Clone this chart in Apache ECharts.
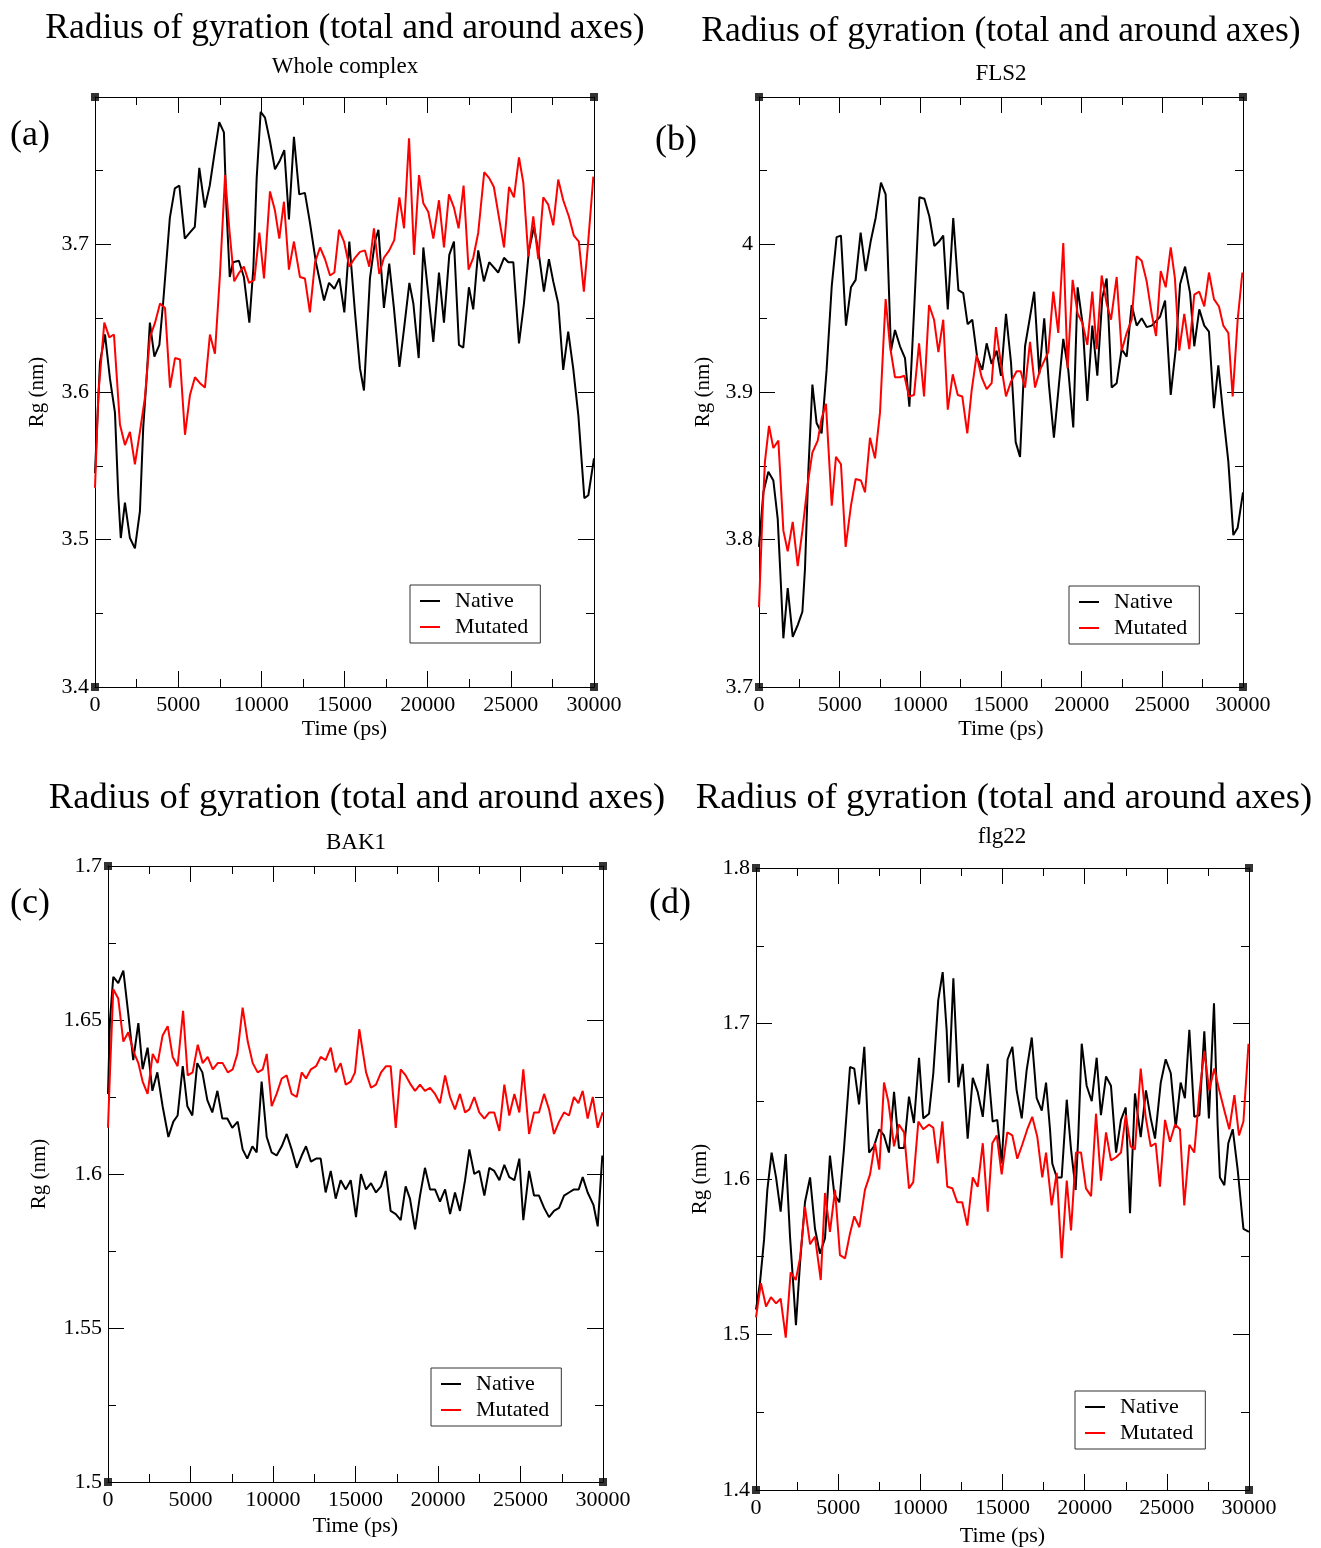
<!DOCTYPE html>
<html>
<head>
<meta charset="utf-8">
<script src="https://cdn.jsdelivr.net/npm/echarts@6/dist/echarts.min.js"></script>
<style>
html,body{margin:0;padding:0;background:#fff;}
#chart{width:1321px;height:1548px;}
</style>
</head>
<body>
<div id="chart"></div>
<script>
// ---------- DATA ----------
const panelTitles = ["Radius of gyration (total and around axes)","Radius of gyration (total and around axes)","Radius of gyration (total and around axes)","Radius of gyration (total and around axes)"];
const panelSubtitles = ["Whole complex","FLS2","BAK1","flg22"];
const panelLetters = ["(a)","(b)","(c)","(d)"];
const seriesNames = ["Native","Mutated"];
const xName = "Time (ps)";
const yName = "Rg (nm)";
const timeTicks = [0,5000,10000,15000,20000,25000,30000];
const yMinA = [3.4, 3.7, 1.5, 1.4];
const yMaxA = [3.8, 4.1, 1.7, 1.8];
const yStepA = [0.1, 0.1, 0.05, 0.1];

// (a) Whole complex
const wholeNativeT = [0,100,300,600,900,1200,1400,1550,1800,2100,2400,2700,2900,3100,3300,3570,3870,4100,4500,4800,5070,5400,5700,6000,6270,6600,6900,7200,7470,7750,7900,8100,8300,8650,8950,9280,9520,9720,9960,10220,10520,10820,11120,11380,11660,11960,12280,12620,12920,13280,13770,14070,14390,14690,14990,15290,15630,15930,16170,16530,16830,17040,17370,17690,17970,18300,18580,18900,19140,19460,19740,20040,20340,20680,20980,21300,21580,21880,22140,22480,22740,23040,23380,23700,24240,24590,24850,25150,25490,25790,26090,26390,26690,26990,27290,27550,27850,28150,28450,28750,29060,29420,29660,30000];
const wholeNativeRg = [3.545,3.571,3.620,3.639,3.609,3.586,3.530,3.501,3.525,3.501,3.494,3.519,3.576,3.609,3.647,3.624,3.632,3.661,3.718,3.738,3.740,3.704,3.708,3.712,3.752,3.725,3.740,3.763,3.783,3.776,3.725,3.678,3.688,3.689,3.678,3.647,3.684,3.745,3.790,3.786,3.770,3.751,3.757,3.764,3.717,3.773,3.734,3.735,3.715,3.688,3.662,3.674,3.670,3.677,3.654,3.702,3.654,3.616,3.601,3.677,3.702,3.710,3.657,3.687,3.657,3.617,3.643,3.674,3.660,3.623,3.698,3.666,3.634,3.681,3.647,3.693,3.702,3.632,3.630,3.671,3.656,3.696,3.675,3.688,3.681,3.691,3.688,3.688,3.633,3.660,3.696,3.712,3.693,3.668,3.690,3.675,3.660,3.615,3.641,3.616,3.584,3.528,3.530,3.555];
const wholeMutT = [0,200,560,860,1140,1500,1800,2100,2400,2700,3000,3300,3610,3910,4210,4510,4810,5110,5410,5710,6010,6310,6610,6910,7210,7510,7820,8070,8370,8670,8950,9260,9580,9880,10160,10520,10820,11080,11360,11660,11960,12320,12620,12920,13230,13530,13830,14130,14390,14670,14970,15290,15630,15930,16230,16490,16770,17090,17370,17690,17990,18300,18580,18880,19180,19480,19740,20040,20340,20680,20980,21280,21580,21860,22160,22460,22740,23040,23400,23700,23980,24290,24590,24890,25190,25490,25750,26050,26350,26650,26950,27250,27550,27850,28150,28490,28790,29090,29390,29660,29960];
const wholeMutRg = [3.535,3.598,3.647,3.637,3.639,3.578,3.564,3.573,3.551,3.573,3.596,3.637,3.647,3.660,3.657,3.603,3.623,3.622,3.571,3.598,3.610,3.606,3.603,3.639,3.626,3.679,3.747,3.711,3.675,3.681,3.685,3.674,3.676,3.708,3.677,3.736,3.723,3.704,3.729,3.683,3.702,3.678,3.677,3.654,3.688,3.698,3.690,3.679,3.681,3.710,3.702,3.685,3.691,3.695,3.696,3.685,3.711,3.680,3.691,3.696,3.703,3.732,3.711,3.772,3.693,3.747,3.728,3.722,3.704,3.730,3.698,3.734,3.725,3.711,3.740,3.683,3.691,3.708,3.749,3.745,3.739,3.718,3.698,3.739,3.732,3.759,3.742,3.692,3.719,3.690,3.732,3.727,3.713,3.744,3.730,3.719,3.706,3.702,3.668,3.703,3.746];

// (b) FLS2
const fls2NativeT = [0,270,580,890,1160,1360,1510,1780,2090,2400,2690,2850,3060,3310,3570,3880,4190,4510,4810,5080,5390,5700,5990,6300,6610,6920,7230,7560,7850,8020,8180,8430,8740,9050,9320,9630,9940,10250,10560,10870,11160,11420,11700,12040,12360,12660,12930,13220,13530,13840,14110,14420,14730,15000,15310,15620,15910,16180,16490,16800,17060,17370,17680,17970,18280,18590,18860,19170,19480,19750,20060,20350,20660,20970,21280,21550,21860,22170,22480,22790,23100,23410,23720,24030,24340,24860,25170,25520,25830,26100,26410,26720,26980,27290,27600,27890,28200,28470,28780,29090,29400,29670,30000];
const fls2NativeRg = [3.795,3.832,3.846,3.840,3.814,3.769,3.733,3.767,3.734,3.742,3.751,3.780,3.847,3.905,3.879,3.872,3.915,3.972,4.005,4.006,3.945,3.971,3.976,4.008,3.982,4.002,4.018,4.042,4.034,3.980,3.928,3.942,3.931,3.923,3.890,3.959,4.032,4.031,4.019,3.999,4.002,4.006,3.956,4.018,3.969,3.967,3.946,3.949,3.923,3.915,3.933,3.919,3.928,3.911,3.953,3.920,3.866,3.856,3.931,3.951,3.968,3.912,3.950,3.905,3.869,3.905,3.936,3.915,3.876,3.971,3.946,3.894,3.945,3.911,3.964,3.977,3.903,3.906,3.929,3.924,3.959,3.945,3.950,3.944,3.945,3.951,3.962,3.898,3.929,3.973,3.985,3.967,3.931,3.956,3.945,3.941,3.889,3.918,3.884,3.853,3.803,3.808,3.832];
const fls2MutT = [0,210,370,620,890,1200,1510,1780,2090,2400,2690,3010,3310,3640,3880,4150,4300,4510,4770,5080,5370,5700,5990,6320,6570,6880,7190,7500,7710,7850,8120,8430,8740,9010,9300,9610,9920,10230,10540,10850,11120,11420,11700,12010,12320,12600,12910,13180,13490,13800,14110,14420,14690,14980,15310,15620,15970,16220,16490,16800,17110,17420,17930,18240,18550,18860,19130,19440,19750,20040,20350,20660,20930,21240,21550,21820,22170,22480,22790,23100,23410,23720,24030,24340,24610,24900,25210,25520,25780,26050,26360,26670,26980,27290,27600,27890,28200,28510,28780,29090,29360,29670,29960];
const fls2MutRg = [3.754,3.816,3.853,3.877,3.862,3.867,3.806,3.792,3.812,3.782,3.806,3.837,3.859,3.867,3.882,3.892,3.863,3.823,3.856,3.851,3.795,3.823,3.841,3.840,3.832,3.869,3.855,3.886,3.933,3.963,3.931,3.910,3.910,3.911,3.897,3.898,3.933,3.897,3.959,3.949,3.927,3.949,3.888,3.912,3.898,3.897,3.872,3.901,3.925,3.910,3.902,3.906,3.944,3.920,3.897,3.907,3.914,3.914,3.903,3.934,3.903,3.915,3.927,3.968,3.940,4.001,3.916,3.976,3.953,3.947,3.932,3.968,3.929,3.979,3.960,3.949,3.978,3.928,3.940,3.949,3.992,3.989,3.975,3.953,3.938,3.982,3.971,3.998,3.977,3.928,3.953,3.929,3.966,3.968,3.958,3.981,3.963,3.958,3.945,3.940,3.897,3.949,3.981];

// (c) BAK1
const bak1NativeT = [0,120,320,620,930,1230,1530,1840,2100,2400,2690,2990,3310,3660,3960,4220,4530,4810,5110,5410,5720,6020,6320,6630,6930,7230,7530,7860,8160,8440,8750,9010,9310,9620,9920,10220,10530,10830,11130,11440,11740,12000,12300,12610,12890,13190,13500,13800,14100,14410,14710,15030,15330,15640,15940,16240,16550,16830,17130,17440,17740,18040,18300,18610,18910,19210,19520,19820,20120,20430,20730,21030,21330,21640,21900,22200,22500,22810,23110,23410,23720,24020,24320,24630,24930,25170,25520,25820,26120,26430,26730,27030,27340,27640,27940,28240,28530,28770,29070,29420,29680,29960];
const bak1NativeRg = [1.626,1.650,1.664,1.662,1.666,1.652,1.637,1.649,1.634,1.641,1.627,1.633,1.622,1.612,1.617,1.619,1.635,1.622,1.619,1.636,1.633,1.624,1.620,1.627,1.618,1.618,1.615,1.617,1.608,1.605,1.609,1.607,1.630,1.612,1.607,1.606,1.609,1.613,1.608,1.602,1.606,1.609,1.604,1.605,1.605,1.594,1.601,1.592,1.598,1.595,1.598,1.586,1.600,1.595,1.597,1.594,1.596,1.601,1.588,1.587,1.585,1.596,1.592,1.582,1.593,1.602,1.595,1.595,1.591,1.595,1.587,1.594,1.588,1.598,1.608,1.600,1.601,1.593,1.602,1.601,1.598,1.603,1.599,1.598,1.605,1.585,1.601,1.593,1.593,1.589,1.586,1.588,1.589,1.593,1.594,1.595,1.595,1.599,1.594,1.590,1.583,1.606];
const bak1MutT = [0,120,320,620,930,1230,1530,1840,2100,2400,2710,3010,3310,3620,3920,4220,4550,4830,5130,5440,5740,6040,6350,6650,6950,7260,7560,7840,8160,8470,8770,9070,9380,9620,9920,10220,10530,10830,11130,11440,11740,12000,12300,12610,12890,13190,13500,13800,14100,14410,14710,14970,15230,15640,15940,16240,16550,16850,17130,17440,17740,18040,18350,18610,18910,19210,19520,19820,20120,20430,20730,21030,21330,21640,21900,22200,22500,22810,23110,23410,23720,24020,24320,24630,24930,25170,25520,25820,26120,26430,26730,27030,27340,27640,27940,28240,28510,28770,29070,29380,29680,29980];
const bak1MutRg = [1.615,1.633,1.660,1.657,1.643,1.646,1.640,1.636,1.630,1.626,1.639,1.636,1.645,1.648,1.638,1.635,1.653,1.632,1.633,1.642,1.636,1.638,1.634,1.636,1.636,1.633,1.634,1.639,1.654,1.643,1.636,1.633,1.634,1.639,1.622,1.626,1.631,1.632,1.626,1.625,1.633,1.631,1.634,1.635,1.638,1.637,1.641,1.633,1.636,1.629,1.630,1.633,1.647,1.633,1.628,1.629,1.633,1.635,1.635,1.615,1.634,1.632,1.629,1.627,1.629,1.627,1.628,1.626,1.623,1.632,1.625,1.621,1.626,1.620,1.621,1.625,1.620,1.618,1.620,1.620,1.614,1.629,1.619,1.626,1.620,1.634,1.613,1.620,1.620,1.626,1.621,1.613,1.617,1.620,1.619,1.625,1.623,1.627,1.618,1.625,1.615,1.620];

// (d) flg22
const flg22NativeT = [0,240,490,690,950,1220,1500,1810,2070,2230,2430,2680,2980,3290,3590,3890,4200,4500,4770,5070,5350,5720,5980,6270,6590,6880,7180,7500,7790,8090,8400,8700,9010,9310,9610,9920,10180,10530,10790,11090,11360,11600,11740,12010,12310,12580,12880,13190,13490,13800,14100,14400,14680,14950,15310,15600,15860,16170,16470,16780,17080,17390,17650,17890,18030,18300,18600,18910,19170,19450,19610,19820,20120,20430,20730,20990,21300,21600,21910,22210,22500,22760,23060,23410,23730,24020,24280,24630,24930,25240,25540,25840,26100,26370,26670,26980,27280,27560,27870,28090,28230,28500,28740,29010,29310,29660,30000];
const flg22NativeRg = [1.516,1.533,1.561,1.593,1.617,1.601,1.579,1.616,1.563,1.538,1.506,1.546,1.585,1.601,1.568,1.552,1.562,1.615,1.590,1.585,1.619,1.672,1.671,1.648,1.685,1.617,1.621,1.632,1.628,1.617,1.656,1.620,1.620,1.653,1.636,1.678,1.639,1.642,1.668,1.715,1.733,1.696,1.662,1.729,1.659,1.674,1.626,1.665,1.656,1.640,1.674,1.637,1.638,1.610,1.677,1.685,1.657,1.639,1.670,1.691,1.652,1.644,1.662,1.632,1.610,1.601,1.601,1.651,1.619,1.593,1.627,1.687,1.660,1.650,1.678,1.641,1.666,1.660,1.617,1.638,1.646,1.578,1.655,1.627,1.657,1.639,1.626,1.662,1.677,1.668,1.633,1.662,1.652,1.696,1.640,1.641,1.695,1.639,1.713,1.635,1.601,1.596,1.623,1.632,1.606,1.568,1.566];
const flg22MutT = [0,300,610,910,1220,1500,1810,2110,2420,2680,2980,3290,3590,3940,4200,4500,4810,5110,5420,5720,5980,6290,6630,6940,7240,7500,7790,8050,8400,8700,9010,9310,9570,9880,10180,10530,10790,11060,11340,11640,11950,12250,12550,12860,13190,13490,13800,14100,14380,14650,14950,15290,15600,15900,16200,16510,16810,17120,17420,17650,17990,18300,18600,18910,19170,19470,19780,20080,20390,20690,20990,21300,21600,21910,22210,22500,22800,23060,23410,23710,24020,24320,24580,24890,25190,25500,25800,26060,26370,26670,26980,27280,27580,27890,28190,28500,28800,29110,29390,29660,29970];
const flg22MutRg = [1.511,1.533,1.518,1.524,1.520,1.523,1.498,1.540,1.535,1.549,1.582,1.558,1.563,1.535,1.591,1.566,1.593,1.551,1.549,1.565,1.576,1.569,1.593,1.603,1.623,1.606,1.662,1.650,1.621,1.635,1.630,1.594,1.598,1.637,1.632,1.635,1.633,1.610,1.637,1.595,1.594,1.585,1.585,1.570,1.601,1.595,1.623,1.579,1.623,1.628,1.603,1.630,1.628,1.613,1.622,1.632,1.640,1.627,1.601,1.617,1.583,1.604,1.549,1.599,1.567,1.617,1.617,1.594,1.589,1.642,1.599,1.630,1.612,1.614,1.617,1.641,1.621,1.619,1.671,1.640,1.621,1.623,1.595,1.638,1.624,1.635,1.632,1.583,1.622,1.617,1.655,1.682,1.657,1.671,1.657,1.644,1.632,1.654,1.628,1.637,1.687];

// ---------- BUILD ----------
const FONT = "'Liberation Serif','Times New Roman',serif";
const zip = (t, v) => t.map((x, i) => [x, v[i]]);
const panels = [
  [wholeNativeT, wholeNativeRg, wholeMutT, wholeMutRg],
  [fls2NativeT, fls2NativeRg, fls2MutT, fls2MutRg],
  [bak1NativeT, bak1NativeRg, bak1MutT, bak1MutRg],
  [flg22NativeT, flg22NativeRg, flg22MutT, flg22MutRg]
];
const gridBoxes = [
  {left: 95, top: 97, width: 499, height: 590},
  {left: 759, top: 97, width: 484, height: 590},
  {left: 108, top: 866, width: 495, height: 616},
  {left: 756, top: 868, width: 493, height: 622}
];
const yNameGaps = [47, 45, 58, 45];
const xNameGaps = [31, 31, 33, 35];
const legendPos = [
  {left: 410, top: 585}, {left: 1069, top: 586}, {left: 431, top: 1368}, {left: 1075, top: 1391}
];
const titlePos = [[345, 29], [1001, 32], [357, 798], [1004, 798]];
const titleSizes = [35.5, 35.5, 36.5, 36.5];
const subPos = [[345, 67], [1001, 74], [356, 843], [1002, 837]];
const letterPos = [[30, 136], [676, 141], [30, 904], [670, 904]];

const lineCol = '#000';
const tickStyle = {color: lineCol, width: 1};
const fmt = v => String(Number(v.toFixed(3)));
const fmtX = v => String(Math.round(v));

const xAxes = [], yAxes = [], series = [], legends = [], graphics = [];
for (let i = 0; i < 4; i++) {
  const common = {
    gridIndex: i, type: 'value', min: 0, max: 30000, interval: 5000,
    axisLine: {show: true, onZero: false, lineStyle: tickStyle},
    axisTick: {show: true, inside: true, length: 16, lineStyle: tickStyle},
    minorTick: {show: true, splitNumber: 2, length: 8, lineStyle: tickStyle},
    splitLine: {show: false}, minorSplitLine: {show: false}
  };
  xAxes.push(Object.assign({}, common, {
    position: 'bottom',
    axisLabel: {show: true, fontSize: 22, fontFamily: FONT, color: '#000', margin: 7, formatter: fmtX},
    name: xName, nameLocation: 'middle', nameGap: xNameGaps[i],
    nameTextStyle: {fontSize: 22, fontFamily: FONT, color: '#000'}
  }));
  const ycommon = {
    gridIndex: i, type: 'value', min: yMinA[i], max: yMaxA[i], interval: yStepA[i],
    axisLine: {show: true, onZero: false, lineStyle: tickStyle},
    axisTick: {show: true, inside: true, length: 16, lineStyle: tickStyle},
    minorTick: {show: true, splitNumber: 2, length: 8, lineStyle: tickStyle},
    splitLine: {show: false}, minorSplitLine: {show: false}
  };
  yAxes.push(Object.assign({}, ycommon, {
    position: 'left',
    axisLabel: {show: true, fontSize: 22, fontFamily: FONT, color: '#000', margin: 6,
      formatter: fmt, showMaxLabel: i >= 2},
    name: yName, nameLocation: 'middle', nameGap: yNameGaps[i], nameRotate: 90,
    nameTextStyle: {fontSize: 21, fontFamily: FONT, color: '#000'}
  }));
}
for (let i = 0; i < 4; i++) {
  xAxes.push({
    gridIndex: i, type: 'value', min: 0, max: 30000, interval: 5000, position: 'top',
    axisLine: {show: true, onZero: false, lineStyle: tickStyle},
    axisTick: {show: true, inside: true, length: 16, lineStyle: tickStyle},
    minorTick: {show: true, splitNumber: 2, length: 8, lineStyle: tickStyle},
    axisLabel: {show: false}, splitLine: {show: false}
  });
  yAxes.push({
    gridIndex: i, type: 'value', min: yMinA[i], max: yMaxA[i], interval: yStepA[i], position: 'right',
    axisLine: {show: true, onZero: false, lineStyle: tickStyle},
    axisTick: {show: true, inside: true, length: 16, lineStyle: tickStyle},
    minorTick: {show: true, splitNumber: 2, length: 8, lineStyle: tickStyle},
    axisLabel: {show: false}, splitLine: {show: false}
  });
}
const colors = ['#000000', '#ff0000'];
for (let i = 0; i < 4; i++) {
  const p = panels[i];
  for (let s = 0; s < 2; s++) {
    series.push({
      type: 'line', name: seriesNames[s], xAxisIndex: i, yAxisIndex: i,
      data: zip(p[s * 2], p[s * 2 + 1]), symbol: 'none', showSymbol: false,
      lineStyle: {color: colors[s], width: 2}, itemStyle: {color: colors[s]},
      animation: false, clip: true, z: 3 + s
    });
  }
  series.push({
    type: 'scatter', name: 'corners' + i, xAxisIndex: i, yAxisIndex: i,
    data: [[0, yMinA[i]], [30000, yMinA[i]], [0, yMaxA[i]], [30000, yMaxA[i]]],
    symbol: 'rect', symbolSize: 8, itemStyle: {color: '#000'}, clip: false,
    silent: true, animation: false, z: 6
  });
  legends.push({
    data: seriesNames, orient: 'vertical', left: legendPos[i].left, top: legendPos[i].top,
    icon: 'rect', itemWidth: 20, itemHeight: 2, itemGap: 4,
    padding: [5, 12, 5, 10], backgroundColor: '#fff', borderColor: '#333', borderWidth: 1,
    selectedMode: false,
    textStyle: {fontSize: 22, fontFamily: FONT, color: '#000', lineHeight: 22, padding: [0, 0, 0, 10]}
  });
  graphics.push({type: 'text', x: titlePos[i][0], y: titlePos[i][1],
    style: {text: panelTitles[i], fontSize: titleSizes[i], fontFamily: FONT, fill: '#000',
      textAlign: 'center', textVerticalAlign: 'middle'}});
  graphics.push({type: 'text', x: subPos[i][0], y: subPos[i][1],
    style: {text: panelSubtitles[i], fontSize: 23, fontFamily: FONT, fill: '#000',
      textAlign: 'center', textVerticalAlign: 'middle'}});
  graphics.push({type: 'text', x: letterPos[i][0], y: letterPos[i][1],
    style: {text: panelLetters[i], fontSize: 36, fontFamily: FONT, fill: '#000',
      textAlign: 'center', textVerticalAlign: 'middle'}});
}

const chart = echarts.init(document.getElementById('chart'), null, {renderer: 'canvas'});
chart.setOption({
  backgroundColor: '#fff',
  animation: false,
  grid: gridBoxes,
  xAxis: xAxes,
  yAxis: yAxes,
  series: series,
  legend: legends,
  graphic: graphics
});
</script>
</body>
</html>
